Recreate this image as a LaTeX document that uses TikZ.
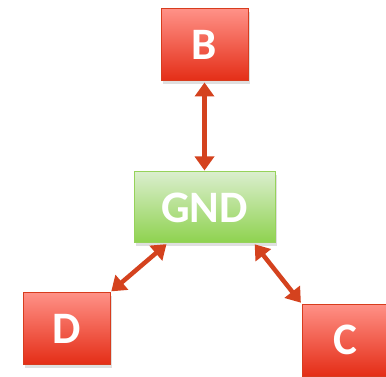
\documentclass[tikz,border=0pt]{standalone}
\usepackage{fontspec}
\setmainfont{Carlito}
\usetikzlibrary{arrows.meta,shadows}
\definecolor{redtop}{RGB}{255,145,135}
\definecolor{redbot}{RGB}{228,45,22}
\definecolor{redborder}{RGB}{215,60,30}
\definecolor{greentop}{RGB}{218,238,205}
\definecolor{greenbot}{RGB}{142,210,78}
\definecolor{greenborder}{RGB}{150,210,90}
\definecolor{arrowcol}{RGB}{212,66,30}
\tikzset{
  redbox/.style={draw=redborder, line width=1pt, top color=redtop, bottom color=redbot,
    minimum width=87pt, minimum height=72pt, inner sep=0pt, text=white,
    font=\fontsize{45}{45}\selectfont\bfseries,
    drop shadow={opacity=0.25, shadow xshift=2pt, shadow yshift=-3pt}},
  greenbox/.style={draw=greenborder, line width=1pt, top color=greentop, bottom color=greenbot,
    minimum width=141pt, minimum height=71pt, inner sep=0pt, text=white,
    font=\fontsize{45}{45}\selectfont\bfseries,
    drop shadow={opacity=0.25, shadow xshift=2pt, shadow yshift=-3pt}},
  conn/.style={draw=arrowcol, line width=4.5pt,
    {Triangle[width=19pt,length=14pt]}-{Triangle[width=19pt,length=14pt]}, shorten <=1pt, shorten >=1pt}
}
\begin{document}
\begin{tikzpicture}[x=1pt,y=-1pt]
\useasboundingbox (0,0) rectangle (386,377);
\clip (0,0) rectangle (386,377);
\node[redbox] (B) at (204.5,45) {B};
\node[greenbox] (G) at (204.5,207.5) {GND};
\node[redbox] (D) at (66.5,328.5) {D};
\node[redbox] (C) at (345.5,340) {C};
\draw[conn] (B.south) -- (G.north);
\draw[conn] (G.-136) -- (D.north east);
\draw[conn] (G.-36) -- (C.north west);
\end{tikzpicture}
\end{document}
